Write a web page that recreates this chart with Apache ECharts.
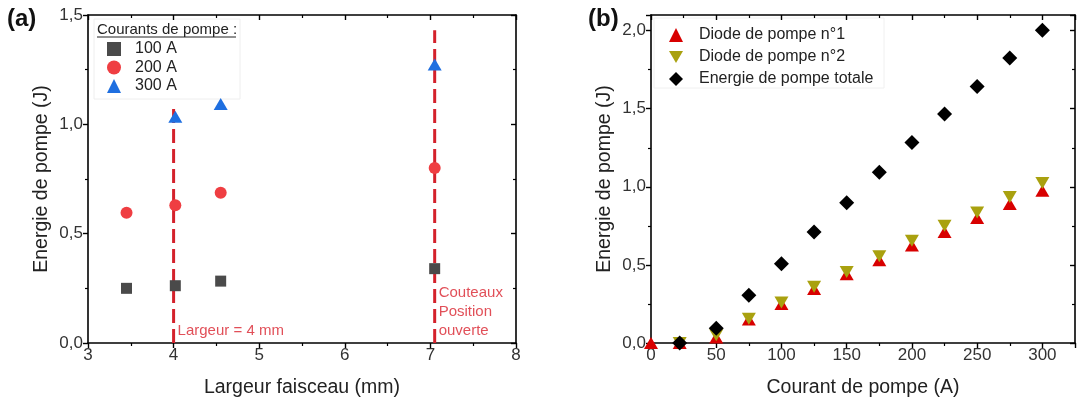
<!DOCTYPE html>
<html>
<head>
<meta charset="utf-8">
<script src="https://cdn.jsdelivr.net/npm/echarts@6/dist/echarts.min.js"></script>
<style>
html,body{margin:0;padding:0;background:#fff;}
#c{width:1078px;height:405px;}
</style>
</head>
<body>
<div id="c"></div>
<script>
// ---------- Data: panel (a) ----------
const widthX100 = [3.45, 4.02, 4.55, 7.05];
const energy100 = [0.25, 0.262, 0.283, 0.34];
const widthX200 = [3.45, 4.02, 4.55, 7.05];
const energy200 = [0.596, 0.63, 0.687, 0.80];
const widthX300 = [4.02, 4.55, 7.05];
const energy300 = [1.035, 1.093, 1.274];
const seriesNamesA = ['100 A', '200 A', '300 A'];
const legendTitleA = 'Courants de pompe :';
const markerLineX = [4.0, 7.05];
const markerLineTop = [1.07, 1.43];
const annotTexts = ['Largeur = 4 mm', 'Couteaux\nPosition\nouverte'];
const annotY = [0.055, 0.143];

// ---------- Data: panel (b) ----------
const current = [0, 22, 50, 75, 100, 125, 150, 175, 200, 225, 250, 275, 300];
const diode1 = [0.0, 0.0, 0.035, 0.15, 0.25, 0.345, 0.44, 0.53, 0.625, 0.71, 0.80, 0.89, 0.975];
const diode2 = [null, 0.0, 0.05, 0.155, 0.26, 0.36, 0.455, 0.555, 0.655, 0.75, 0.835, 0.935, 1.025];
const total  = [null, 0.0, 0.095, 0.305, 0.508, 0.71, 0.898, 1.093, 1.283, 1.466, 1.643, 1.825, 2.002];
const seriesNamesB = ['Diode de pompe n°1', 'Diode de pompe n°2', 'Energie de pompe totale'];

const xTitleA = 'Largeur faisceau (mm)';
const xTitleB = 'Courant de pompe (A)';
const yTitle = 'Energie de pompe (J)';
const panelLabels = ['(a)', '(b)'];

const FONT = '"Liberation Sans", Arial, sans-serif';
const pair = (xs, ys) => xs.map((x, i) => [x, ys[i]]).filter(p => p[1] !== null && p[1] !== undefined);
const fmtComma = v => (Math.abs(v * 2 - Math.round(v * 2)) < 1e-6) ? v.toFixed(1).replace('.', ',') : '';
const fmtInt = v => (v % 50 === 0 && v <= 300) ? String(v) : '';
const fmtIntA = v => (Math.abs(v - Math.round(v)) < 1e-6) ? String(Math.round(v)) : '';

function mainAxis(gridIndex, pos, min, max, interval, fmt, name, nameGap, labelMargin) {
  return {
    type: 'value', gridIndex, position: pos, min, max, interval,
    name, nameLocation: 'middle', nameGap,
    nameTextStyle: { fontFamily: FONT, fontSize: 19.5, color: '#222' },
    axisLine: { show: true, onZero: false, lineStyle: { color: '#000', width: 1.6 } },
    axisTick: { show: true, inside: false, length: 5, lineStyle: { color: '#000', width: 1.4 } },
    minorTick: { show: true, splitNumber: 2, length: 3, lineStyle: { color: '#000', width: 1.2 } },
    axisLabel: { show: true, formatter: fmt, fontFamily: FONT, fontSize: 17, color: '#333', margin: labelMargin, showMaxLabel: true, showMinLabel: true },
    splitLine: { show: false }
  };
}
function mirrorAxis(gridIndex, pos, min, max, interval) {
  return {
    type: 'value', gridIndex, position: pos, min, max, interval,
    axisLine: { show: true, onZero: false, lineStyle: { color: '#000', width: 1.6 } },
    axisTick: { show: true, inside: true, length: 5, lineStyle: { color: '#000', width: 1.4 } },
    minorTick: { show: true, splitNumber: 2, length: 3, lineStyle: { color: '#000', width: 1.2 } },
    axisLabel: { show: false },
    splitLine: { show: false }
  };
}

const chart = echarts.init(document.getElementById('c'), null, { renderer: 'canvas' });

const option = {
  animation: false,
  backgroundColor: '#fff',
  grid: [
    { left: 88, top: 15, width: 428, height: 328 },
    { left: 651, top: 15, width: 430, height: 328 }
  ],
  xAxis: [
    mainAxis(0, 'bottom', 3, 8, 1, fmtIntA, xTitleA, 35, 4),
    mirrorAxis(0, 'top', 3, 8, 1),
    mainAxis(1, 'bottom', 0, 325, 50, fmtInt, xTitleB, 35, 4),
    mirrorAxis(1, 'top', 0, 325, 50)
  ],
  yAxis: [
    mainAxis(0, 'left', 0, 1.5, 0.5, fmtComma, yTitle, 36, 5),
    mirrorAxis(0, 'right', 0, 1.5, 0.5),
    mainAxis(1, 'left', 0, 2.1, 0.5, fmtComma, yTitle, 36, 5),
    mirrorAxis(1, 'right', 0, 2.1, 0.5)
  ],
  legend: [
    {
      data: seriesNamesA, orient: 'vertical', left: 107, top: 41, padding: 0,
      itemWidth: 14, itemHeight: 14, itemGap: 2.5,
      textStyle: { fontFamily: FONT, fontSize: 16, color: '#222', padding: [0, 0, 0, 9] }
    },
    {
      data: seriesNamesB, orient: 'vertical', left: 669, top: 27, padding: 0,
      itemWidth: 14, itemHeight: 14, itemGap: 6,
      textStyle: { fontFamily: FONT, fontSize: 16, color: '#222', padding: [0, 0, 0, 11] }
    }
  ],
  graphic: [
    { type: 'text', left: 7, top: 7, style: { text: panelLabels[0], font: 'bold 24px ' + FONT, fill: '#111' } },
    { type: 'text', left: 588, top: 7, style: { text: panelLabels[1], font: 'bold 24px ' + FONT, fill: '#111' } },
    { type: 'text', left: 97, top: 22, style: { text: legendTitleA, font: '15px ' + FONT, fill: '#222' } },
    { type: 'line', shape: { x1: 97, y1: 37, x2: 236, y2: 37 }, style: { stroke: '#222', lineWidth: 1 } },
    { type: 'rect', shape: { x: 94, y: 19, width: 146, height: 80 }, style: { fill: 'none', stroke: '#eeeeee', lineWidth: 1 } },
    { type: 'rect', shape: { x: 654, y: 18, width: 230, height: 70 }, style: { fill: 'none', stroke: '#f0f0f0', lineWidth: 1 } }
  ],
  series: [
    // Panel (a) dashed markers
    ...markerLineX.map((x, i) => ({
      type: 'line', xAxisIndex: 0, yAxisIndex: 0, symbol: 'none', silent: true, z: 1,
      data: [[x, 0], [x, markerLineTop[i]]],
      lineStyle: { color: '#d4212b', width: 3, type: [14, 6] }
    })),
    {
      name: seriesNamesA[0], type: 'scatter', xAxisIndex: 0, yAxisIndex: 0,
      symbol: 'rect', symbolSize: 11, itemStyle: { color: '#4a4a4a', opacity: 1 },
      data: pair(widthX100, energy100), z: 3
    },
    {
      name: seriesNamesA[1], type: 'scatter', xAxisIndex: 0, yAxisIndex: 0,
      symbol: 'circle', symbolSize: 12, itemStyle: { color: '#ef3e42', opacity: 1 },
      data: pair(widthX200, energy200), z: 3
    },
    {
      name: seriesNamesA[2], type: 'scatter', xAxisIndex: 0, yAxisIndex: 0,
      symbol: 'triangle', symbolSize: [14, 12], itemStyle: { color: '#1f6fe0', opacity: 1 },
      data: pair(widthX300, energy300), z: 3
    },
    ...markerLineX.map((x, i) => ({
      type: 'scatter', xAxisIndex: 0, yAxisIndex: 0, symbolSize: 0, silent: true, z: 4,
      data: [[x, annotY[i]]],
      label: {
        show: true, position: 'right', distance: 4, formatter: annotTexts[i],
        fontFamily: FONT, fontSize: 15, color: '#d9232e', lineHeight: 19, align: 'left'
      }
    })),
    // Panel (b)
    {
      name: seriesNamesB[0], type: 'scatter', xAxisIndex: 2, yAxisIndex: 2,
      symbol: 'triangle', symbolSize: [14, 12], itemStyle: { color: '#d80000', opacity: 1 },
      data: pair(current, diode1), z: 3
    },
    {
      name: seriesNamesB[1], type: 'scatter', xAxisIndex: 2, yAxisIndex: 2,
      symbol: 'path://M0,0L20,0L10,17Z', symbolSize: [14, 12], itemStyle: { color: '#a9a10f', opacity: 1 },
      data: pair(current, diode2), z: 3
    },
    {
      name: seriesNamesB[2], type: 'scatter', xAxisIndex: 2, yAxisIndex: 2,
      symbol: 'diamond', symbolSize: 15, itemStyle: { color: '#000', opacity: 1 },
      data: pair(current, total), z: 3
    }
  ]
};
chart.setOption(option);
</script>
</body>
</html>
